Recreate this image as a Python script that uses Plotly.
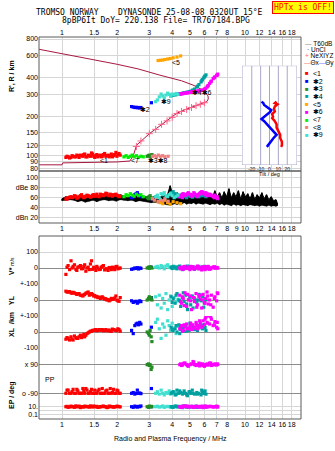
import math
import plotly.graph_objects as go

# ---------------- text ----------------
title1 = "TROMSO NORWAY    DYNASONDE 25-08-08 0320UT 15°E"
title2 = "8pBP6It DoY= 220.138 File= TR767184.BPG"
hptx_text = "HPTx is OFF!"

# ---------------- ticks ----------------
freq_ticks_top = [1, 1.5, 2, 3, 4, 5, 6, 7, 8, 10, 12, 14, 16, 18]
freq_ticks_mid = [1, 1.5, 2, 3, 4, 5, 6, 7, 8, 9, 10, 12, 14, 16, 18]
height_ticks = [80, 90, 100, 120, 150, 200, 300, 400, 600, 800]
db_ticks = [20, 40, 60, 80, 100]
db_labels = ["dBn 20", "40", "60", "dBe 80", "100"]
tilt_ticks = [-20, -10, 0, 10, 20]
tilt_range = [-31, 31]
tilt_h_range = [84.7, 497]

# ---------------- electron density profile (f MHz, h km) ----------------
profile_f = [0.75, 1.0, 1.01, 1.6, 2.0, 2.35, 2.45, 2.56, 2.67, 3.02, 3.29, 3.57, 3.89, 4.24,
             4.7, 5.2, 5.8, 6.18, 6.3, 6.28, 6.1, 5.89, 5.2, 4.5, 3.43, 2.6, 2.0, 1.6, 1.0, 0.75]
profile_h = [85, 85, 88, 88.5, 89.5, 91, 100, 121, 128, 149, 163, 178, 195, 213,
             227, 239, 252, 262, 275, 290, 305, 322, 352, 380, 420, 470, 510, 541, 620, 666]
nexyz_f = [2.55, 2.7, 3.0, 3.25, 3.5, 3.75, 4.0, 4.25, 4.5, 4.8, 5.1, 5.4, 5.7, 6.0]
nexyz_h = [118, 130, 148, 160, 175, 186, 198, 212, 220, 228, 236, 244, 250, 257]

# ---------------- echo traces ----------------
# <1  (red)
t1_f = [1.05, 1.08, 1.12, 1.15, 1.19, 1.22, 1.26, 1.30, 1.33, 1.37, 1.41, 1.45, 1.49, 1.53,
        1.57, 1.62, 1.66, 1.71, 1.76, 1.81, 1.86, 1.91, 1.97, 2.02, 2.08,
        1.065, 1.10, 1.135, 1.17, 1.205, 1.24, 1.28, 1.315, 1.35, 1.39, 1.43, 1.47, 1.51,
        1.55, 1.595, 1.64, 1.685, 1.735, 1.785, 1.835, 1.885, 1.94, 1.995, 2.05]
t1_h = [97, 98, 97, 99, 98, 100, 101, 99, 103, 98, 100, 105, 99, 100, 98, 101, 99, 104, 100,
        98, 103, 100, 106, 102, 101,
        99, 96, 100, 98, 101, 97, 100, 102, 98, 101, 99, 103, 97, 102, 100, 98, 102, 99, 101,
        100, 98, 102, 99, 104]
t1_db = [58, 60, 62, 61, 63, 60, 64, 62, 61, 65, 63, 62, 66, 64, 63, 67, 65, 66, 68, 64, 66,
         65, 67, 64, 63,
         57, 61, 60, 64, 59, 62, 66, 60, 63, 64, 61, 65, 63, 67, 62, 66, 64, 69, 65, 67, 63,
         66, 65, 62]
t1_v = [-40, 15, 45, 10, -8, 5, 15, -3, 20, 0, -10, 45, 5, -15, 0, -8, 10, -12, -5, 3, -10,
        0, 8, -5, 0,
        5, -10, 0, 20, -15, 8, -5, 10, -20, 5, 25, -8, 0, 10, -10, 5, 15, -5, -15, 0, 5, -10,
        10, -2]
t1_yl = [55, 50, 45, 48, 40, 38, 30, 25, 35, 45, 30, 40, 25, 20, 15, 10, 20, 5, 0, -5, 10, 5,
         25, -5, 15,
         50, 52, 42, 44, 35, 40, 28, 32, 42, 50, 36, 34, 28, 22, 18, 15, 12, 8, 2, 0, 6, 12,
         0, -8]
t1_xl = [-45, -40, -30, -50, -35, -40, -20, -25, -30, -10, 0, 5, 10, 15, 10, 12, 15, 10, 8,
         12, 5, 15, 10, 20, 5,
         -35, -50, -45, -25, -40, -30, -35, -15, -20, -5, 5, 10, 12, 8, 15, 12, 8, 15, 10, 5,
         18, 12, 8, 15]
t1_pp = [-90, -70, -90, -65, -90, -75, -90, -60, -90, -70, -90, -65, -90, -90, -75, -90, -60,
         -90, -70, -90, -90, -65, -90, -75, -90,
         -70, -90, -80, -90, -65, -90, -90, -75, -60, -90, -80, -90, -70, -90, -65, -90, -90,
         -75, -90, -60, -85, -90, -70, -90]
t1_ep = [10, 7, 14, 10, 16, 10, 6, 10, 13, 10, 8, 10, 15, 10, 7, 10, 12, 10, 6, 14, 10, 8, 10,
         12, 9,
         12, 9, 10, 7, 10, 14, 10, 8, 12, 10, 16, 9, 10, 12, 8, 10, 14, 10, 7, 12, 10, 9, 13,
         10]

# *2 (blue)
t2_f = [2.40, 2.45, 2.50, 2.54, 2.58, 2.62, 2.66, 2.70, 3.08]
t2_h = [240, 238, 236, 237, 235, 236, 234, 236, 257]
t2_db = [60, 62, 66, 68, 70, 66, 64, 62, 58]
t2_v = [-8, -5, 0, -3, 2, -6, 0, -2, 5]
t2_yl = [-5, -15, -10, -8, -20, -12, -5, -10, 15]
t2_xl = [10, -10, 40, 50, 55, 45, 60, 50, 30]
t2_pp = [-90, -85, -95, -90, -70, -90, -88, -92, -60]
t2_ep = [10, 7, 14, 10, 8, 12, 10, 15, 10]

# *3 (dark green)
t3_f = [2.92, 2.97, 3.00, 3.03, 3.07, 3.10]
t3_h = [99, 100, 101, 98, 100, 102]
t3_db = [60, 58, 62, 64, 60, 58]
t3_v = [0, 5, -2, 8, 3, 0]
t3_yl = [0, 10, 20, 5, 15, 0]
t3_xl = [0, -10, -20, 10, -30, -60]
t3_pp = [90, 95, 85, 90, 60, 75]
t3_ep = [10, 7, 14, 9, 12, 10]

# *4 (teal)
t4_f = [3.95, 4.05, 4.15, 4.25, 4.35, 4.45, 4.55, 4.65, 4.75, 4.85, 4.95, 5.05, 5.15, 5.30,
        5.45, 5.60, 5.75, 5.85, 5.95, 6.05, 6.12,
        4.00, 4.20, 4.40, 4.60, 4.80, 5.00, 5.20, 5.50, 5.80, 6.00]
t4_h = [292, 294, 296, 298, 300, 302, 304, 306, 308, 310, 312, 315, 320, 328, 340, 355, 372,
        388, 400, 414, 422,
        293, 297, 301, 305, 309, 313, 322, 345, 380, 408]
t4_db = [70, 72, 68, 66, 64, 65, 67, 63, 62, 64, 66, 63, 61, 65, 64, 62, 66, 68, 65, 64, 62,
         68, 66, 62, 66, 60, 64, 62, 66, 64, 66]
t4_v = [5, 10, 0, -5, 8, 2, -10, 5, 0, 12, -3, 6, 0, -8, 4, 10, -2, 3, 0, 6, -4,
        -3, 6, 12, -6, 4, -2, 8, 0, -5, 10]
t4_yl = [20, 10, -20, 40, 0, -40, 15, -10, 30, -60, 5, -30, 25, 10, -15, 35, -5, 20, -45,
         10, 0,
         -15, 30, -5, 45, -25, 20, -50, 0, 30, -20]
t4_xl = [30, 10, 20, 0, 45, 15, 25, 5, 35, 20, 10, 40, 30, 15, 50, 25, 35, 20, 45, 30, 10,
         15, 40, -10, 30, 5, 55, 20, 10, 40, 25]
t4_pp = [-90, -80, -100, -70, -90, -85, -95, -75, -90, -105, -80, -90, -70, -95, -85, -90,
         -100, -80, -90, -75, -95,
         -85, -95, -75, -90, -100, -80, -90, -95, -70, -90]
t4_ep = [10, 7, 14, 9, 12, 10, 6, 10, 15, 10, 8, 12, 10, 7, 13, 10, 9, 10, 12, 10, 8,
         9, 12, 10, 15, 8, 10, 12, 7, 10, 11]

# <5 (orange)
t5_f = [3.35, 3.45, 3.55, 3.65, 3.78, 3.90, 4.05, 4.25, 4.45]
t5_h = [545, 548, 550, 555, 560, 565, 572, 580, 592]
t5_db = [52, 50, 48, 55, 50, 47, 52, 50, 48]

# *6 (magenta)
t6_f = [4.40, 4.50, 4.60, 4.70, 4.80, 4.90, 5.00, 5.10, 5.20, 5.30, 5.40, 5.50, 5.60, 5.70,
        5.80, 5.90, 6.00, 6.10, 6.20, 6.30, 6.40, 6.55, 6.70, 6.85, 7.00, 7.10,
        4.45, 4.55, 4.65, 4.85, 5.05, 5.25, 5.45, 5.65, 5.85, 6.05, 6.25, 6.5, 6.8, 7.05]
t6_h = [300, 302, 303, 305, 306, 308, 309, 311, 313, 314, 315, 316, 318, 319, 320, 322, 326,
        332, 340, 350, 362, 378, 395, 408, 418, 428,
        301, 302, 304, 307, 310, 313, 315, 318, 321, 330, 345, 372, 402, 422]
t6_db = [62, 65, 68, 64, 66, 70, 67, 63, 65, 68, 66, 64, 67, 70, 72, 69, 66, 70, 68, 65, 67,
         64, 62, 65, 60, 58,
         64, 60, 66, 68, 65, 70, 62, 68, 71, 67, 64, 66, 60, 62]
t6_v = [0, 5, -8, 10, -3, 6, -10, 2, 8, -5, 0, 12, -6, 3, -12, 5, 0, 8, -4, 10, -8, 2, 6,
        -2, 4, 0,
        -5, 3, 8, -2, 10, -6, 4, 0, 7, -10, 2, -5, 8, 0]
t6_yl = [30, -20, 10, 45, -40, 0, 25, -60, 15, -10, 40, -30, 20, 5, -50, 35, -15, 10, 50,
         -25, 0, 30, -45, 20, -5, 40,
         -10, 20, -35, 35, -5, 15, -45, 30, 0, -20, 25, -30, 10, 45]
t6_xl = [20, 40, 10, 30, 50, 25, 35, 15, 45, 30, 60, 20, 40, 55, 30, 70, 45, 90, 60, 100,
         50, 80, 40, 65, 30, 20,
         30, 5, 45, 20, 55, 25, 40, 70, 35, 80, 55, 95, 45, 60]
t6_pp = [90, 85, 95, 100, 90, 80, 90, 95, 110, 90, 85, 90, 100, 95, 90, 85, 80, 90, 95, 90,
         100, 85, 90, 95, 88, 92,
         95, 88, 100, 85, 92, 105, 90, 82, 95, 90, 88, 100, 90, 95]
t6_ep = [10, 7, 13, 15, 10, 8, 10, 12, 7, 10, 14, 10, 8, 12, 10, 6, 10, 15, 9, 10, 12, 10,
         8, 10, 14, 10,
         8, 12, 10, 14, 10, 7, 11, 10, 13, 9, 10, 12, 10, 8]

# <7 (lime)
t7_f = [2.18, 2.24, 2.30, 2.36, 2.42, 2.48, 2.55, 2.62, 2.70, 2.78]
t7_h = [98, 100, 97, 99, 101, 98, 100, 97, 99, 98]
t7_db = [62, 66, 64, 68, 65, 63, 67, 64, 66, 62]

# <8 (salmon)
t8_f = [3.12, 3.20, 3.28, 3.36, 3.45, 3.55, 3.65, 3.80]
t8_h = [99, 100, 98, 101, 99, 100, 98, 99]
t8_db = [58, 55, 60, 52, 56, 54, 58, 53]

# *9 (turquoise)
t9_f = [3.25, 3.32, 3.40, 3.48, 3.55, 3.62, 3.70, 3.78, 3.85, 3.92, 4.00, 4.10, 4.20, 4.30]
t9_h = [262, 270, 285, 300, 290, 280, 295, 305, 298, 288, 300, 296, 303, 298]
t9_db = [62, 65, 60, 68, 66, 70, 64, 62, 66, 68, 64, 60, 62, 65]
t9_v = [5, 10, 0, 15, 8, -5, 12, 20, 3, 6, 0, 10, -3, 5]
t9_yl = [20, -30, 30, -50, 10, -20, 40, -60, 0, 25, -40, 15, -10, 5]
t9_xl = [60, 80, 20, -40, 50, 30, -20, 70, 40, 10, 55, 25, -10, 35]
t9_pp = [-90, -80, -95, -70, -90, -100, -85, -90, -75, -95, -90, -80, -100, -90]
t9_ep = [10, 13, 8, 10, 15, 7, 10, 12, 10, 8, 11, 10, 14, 9]

# noise amplitude band (dB)
noise_f = [1.00, 1.05, 1.10, 1.16, 1.22, 1.28, 1.34, 1.41, 1.48, 1.55, 1.63, 1.71, 1.80, 1.89,
           1.98, 2.08, 2.18, 2.29, 2.41, 2.53, 2.65, 2.79, 2.93, 3.07, 3.23, 3.39, 3.56, 3.74,
           3.90, 4.02, 4.14, 4.26, 4.39, 4.52, 4.66, 4.80, 4.94, 5.09, 5.24, 5.40, 5.56, 5.73,
           5.90, 6.08, 6.26, 6.45, 6.64, 6.84, 7.05, 7.26, 7.48, 7.70, 7.93, 8.17, 8.42, 8.67,
           8.93, 9.20, 9.47, 9.76, 10.05, 10.35, 10.66, 10.98, 11.31, 11.65, 12.0, 12.36,
           12.73, 13.11, 13.50, 13.91, 14.33, 14.76, 15.0]
noise_hi = [58, 62, 59, 63, 60, 64, 58, 62, 65, 60, 63, 66, 61, 64, 62, 66, 63, 60, 64, 62,
            66, 60, 63, 58, 64, 60, 66, 62, 84,
            68, 62, 70, 63, 66, 61, 67, 62, 68, 63, 66, 60, 67, 62, 69, 63, 66, 60, 74, 62,
            70, 60, 72, 62, 78, 60, 70, 62, 74, 58, 72, 62, 68, 58, 70, 57, 66, 60, 70, 58,
            66, 56, 62, 54, 56, 50]
noise_lo = [54, 55, 56, 55, 52, 54, 51, 53, 55, 52, 55, 56, 54, 55, 53, 56, 55, 54, 55, 52,
            54, 53, 52, 50, 51, 49, 47, 46, 45,
            47, 48, 46, 49, 48, 50, 47, 49, 48, 50, 47, 49, 48, 47, 49, 48, 46, 48, 47, 49,
            46, 48, 45, 47, 46, 44, 47, 45, 46, 44, 46, 45, 44, 46, 45, 44, 45, 43, 45, 44,
            43, 45, 43, 44, 43, 44]

# tilt profiles (deg, km)
tiltx_deg = [8, 6, 9, 6, 5, 6, 3, 4, 3, 6, 8, 8, 10, 12, 12, 14, 14, 13]
tiltx_h = [262, 255, 250, 240, 230, 220, 210, 200, 195, 185, 175, 165, 155, 145, 137, 128,
           120, 117]
tilty_deg = [-9, -7, -6, -1, 2, 1, -3, -9, -6, -2, 3, 8, 5, 2, -3]
tilty_h = [262, 255, 247, 235, 225, 219, 208, 192, 185, 172, 160, 145, 138, 130, 117]

# colours
C1, C2, C3, C4, C5 = "#ff0000", "#0000ff", "#228b22", "#00a0a0", "#ffa500"
C6, C7, C8, C9 = "#ff00ff", "#00ee00", "#f08080", "#40e0d0"
PROFILE_C = "#a81840"
NEXYZ_C = "#ff6088"
INSET_GRID = "#a8a8c8"

# ---------------- geometry helpers (pixel -> paper) ----------------
W, H = 335, 451
ML, MR, MT, MB = 39, 34, 37, 32
PW, PH = W - ML - MR, H - MT - MB


def px(p):
    return (p - ML) / PW


def py(p):
    return (H - MB - p) / PH


def ydom(top, bot):
    return [py(bot), py(top)]


fig = go.Figure()


def markers(x, y, xa, ya, color, size=3.2, symbol="square", lw=0):
    fig.add_trace(go.Scatter(x=x, y=y, xaxis=xa, yaxis=ya, mode="markers",
                             marker=dict(color=color, size=size, symbol=symbol,
                                         line=dict(width=lw, color=color)),
                             showlegend=False, hoverinfo="skip"))


def lines(x, y, xa, ya, color, width=1, **kw):
    fig.add_trace(go.Scatter(x=x, y=y, xaxis=xa, yaxis=ya, mode="lines",
                             line=dict(color=color, width=width), showlegend=False,
                             hoverinfo="skip", **kw))


# main panel: profile
lines(profile_f, profile_h, "x", "y", PROFILE_C, 1)
markers(nexyz_f, nexyz_h, "x", "y", NEXYZ_C, size=5, symbol="cross-thin", lw=1)

main_series = [(t1_f, t1_h, C1), (t2_f, t2_h, C2), (t3_f, t3_h, C3), (t4_f, t4_h, C4),
               (t5_f, t5_h, C5), (t6_f, t6_h, C6), (t7_f, t7_h, C7), (t8_f, t8_h, C8),
               (t9_f, t9_h, C9)]
for f, h, c in main_series:
    markers(f, h, "x", "y", c)

# dB panel: noise band (filled envelope + vertical spikes)
lines(noise_f, noise_lo, "x2", "y2", "black", 0.5)
lines(noise_f, noise_hi, "x2", "y2", "black", 1, fill="tonexty", fillcolor="black")
spk_x, spk_y = [], []
for f, lo, hi in zip(noise_f, noise_lo, noise_hi):
    spk_x += [f, f, None]
    spk_y += [lo, hi, None]
lines(spk_x, spk_y, "x2", "y2", "black", 1.5)
db_series = [(t1_f, t1_db, C1), (t2_f, t2_db, C2), (t3_f, t3_db, C3), (t4_f, t4_db, C4),
             (t5_f, t5_db, C5), (t6_f, t6_db, C6), (t7_f, t7_db, C7), (t8_f, t8_db, C8),
             (t9_f, t9_db, C9)]
for f, d, c in db_series:
    markers(f, d, "x2", "y2", c)

# lower panels
lower_series = [(t1_f, t1_v, t1_yl, t1_xl, t1_pp, t1_ep, C1),
                (t2_f, t2_v, t2_yl, t2_xl, t2_pp, t2_ep, C2),
                (t3_f, t3_v, t3_yl, t3_xl, t3_pp, t3_ep, C3),
                (t9_f, t9_v, t9_yl, t9_xl, t9_pp, t9_ep, C9),
                (t4_f, t4_v, t4_yl, t4_xl, t4_pp, t4_ep, C4),
                (t6_f, t6_v, t6_yl, t6_xl, t6_pp, t6_ep, C6)]
for f, v, yl, xl, pp, ep, c in lower_series:
    markers(f, v, "x3", "y3", c)
    markers(f, yl, "x3", "y4", c)
    markers(f, xl, "x3", "y5", c)
    markers(f, pp, "x3", "y6", c)
    markers(f, ep, "x3", "y7", c)

# inset tilt: white background panel, grid, then the two tilt curves
fig.add_trace(go.Scatter(
    x=[tilt_range[0], tilt_range[1], tilt_range[1], tilt_range[0], tilt_range[0]],
    y=[tilt_h_range[0], tilt_h_range[0], tilt_h_range[1], tilt_h_range[1], tilt_h_range[0]],
    xaxis="x4", yaxis="y8", mode="lines", fill="toself", fillcolor="white",
    line=dict(color=INSET_GRID, width=1), showlegend=False, hoverinfo="skip"))
grid_x, grid_y = [], []
for v in tilt_ticks:
    grid_x += [v, v, None]
    grid_y += [tilt_h_range[0], tilt_h_range[1], None]
lines(grid_x, grid_y, "x4", "y8", INSET_GRID, 1)
lines(tiltx_deg, tiltx_h, "x4", "y8", "#ff0000", 2.5)
lines(tilty_deg, tilty_h, "x4", "y8", "#0000ff", 2.5)

# ---------------- axes ----------------
FONT = "Liberation Sans, Arial, DejaVu Sans"
tickfont = dict(family=FONT, size=7, color="#000")
GL = "#d6d6d6"
GD = "#8c8c8c"


def ftxt(v):
    return str(v)


xcommon = dict(type="log", range=[-0.1257, 1.306], showgrid=True, gridcolor=GL, gridwidth=1,
               ticks="", showline=False, zeroline=False, tickfont=tickfont, tickmode="array",
               tickangle=0)

yc = dict(showline=False, ticks="", tickfont=tickfont, tickmode="array", gridcolor=GL,
          gridwidth=1, tickangle=0)

fig.update_layout(
    width=W, height=H, autosize=False,
    margin=dict(l=ML, r=MR, t=MT, b=MB, pad=0),
    paper_bgcolor="white", plot_bgcolor="white",
    xaxis=dict(**xcommon, domain=[0, 1], anchor="y", side="top",
               tickvals=freq_ticks_top, ticktext=[ftxt(v) for v in freq_ticks_top]),
    xaxis2=dict(**xcommon, domain=[0, 1], anchor="y2", side="bottom", matches="x",
                tickvals=freq_ticks_mid, ticktext=[ftxt(v) for v in freq_ticks_mid]),
    xaxis3=dict(**xcommon, domain=[0, 1], anchor="y7", side="bottom", matches="x",
                tickvals=freq_ticks_top, ticktext=[ftxt(v) for v in freq_ticks_top]),
    yaxis=dict(**yc, type="log", range=[1.8816, 2.9187], domain=ydom(37, 171), anchor="x",
               tickvals=height_ticks, ticktext=[str(v) for v in height_ticks],
               zeroline=False),
    yaxis2=dict(**yc, range=[9.4, 113.4], domain=ydom(171, 223), anchor="x2",
                tickvals=db_ticks, ticktext=db_labels, zeroline=False),
    yaxis3=dict(**yc, range=[-100, 200], domain=ydom(236, 284), anchor="x3",
                tickvals=[0, 100], ticktext=["0", "100"], zeroline=True,
                zerolinecolor=GD, zerolinewidth=1),
    yaxis4=dict(**yc, range=[-100, 100], domain=ydom(284, 316), anchor="x3",
                tickvals=[0, 100], ticktext=["0", "+-100"], zeroline=True,
                zerolinecolor=GD, zerolinewidth=1),
    yaxis5=dict(**yc, range=[-100, 100], domain=ydom(316, 348), anchor="x3",
                tickvals=[-100, 0, 100], ticktext=["-100", "0", "+-100"], zeroline=True,
                zerolinecolor=GD, zerolinewidth=1),
    yaxis6=dict(showline=False, ticks="", tickfont=tickfont, tickmode="array", gridcolor=GD,
                gridwidth=1, range=[-138.4, 195], domain=ydom(348, 401), anchor="x3",
                tickvals=[-90, 90], ticktext=["o -90", "x 90"], zeroline=False),
    yaxis7=dict(**yc, type="log", range=[-2.075, 2.425], domain=ydom(401, 419), anchor="x3",
                tickvals=[0.1, 1, 10], ticktext=["0.1", "", "10."], zeroline=False),
    xaxis4=dict(range=tilt_range, domain=[px(242), px(297)], anchor="y8", showgrid=False,
                zeroline=False, showline=False, ticks="", tickmode="array", tickangle=0,
                tickvals=tilt_ticks, ticktext=[str(v) for v in tilt_ticks],
                tickfont=dict(family=FONT, size=5, color="#000")),
    yaxis8=dict(type="log", range=[math.log10(tilt_h_range[0]), math.log10(tilt_h_range[1])],
                domain=ydom(65.7, 165), anchor="x4", showgrid=False, zeroline=False,
                showline=False, showticklabels=False, ticks=""),
)

# ---------------- frames ----------------
shapes = []
for top, bot in [(37, 171), (171, 223), (236, 419)]:
    shapes.append(dict(type="rect", xref="paper", yref="paper", x0=0, x1=1,
                       y0=py(bot), y1=py(top), line=dict(color="#5a5a5a", width=1),
                       fillcolor="rgba(0,0,0,0)", layer="above"))
fig.update_layout(shapes=shapes)

# ---------------- annotations ----------------
ann = []


def text(t, x, y, size=7, color="#000", xanchor="center", family=FONT, angle=0, **kw):
    ann.append(dict(text=t, x=px(x), y=py(y), xref="paper", yref="paper", showarrow=False,
                    xanchor=xanchor, yanchor="middle", textangle=angle,
                    font=dict(family=family, size=size, color=color), **kw))


MONO = "DejaVu Sans Mono, Liberation Mono, monospace"
text(title1, 149, 13, size=8, family=MONO)
text(title2, 156, 21, size=8, family=MONO)
text(hptx_text, 302.5, 8, size=8, color="#ff0000", family=MONO, bgcolor="#ffff00",
     bordercolor="#ff0000", borderwidth=1, borderpad=1)

# axis titles
text("<b>R', R / km</b>", 12, 76, size=7, angle=-90)
text("<b>V*</b> <span style='font-size:5px'>m/s</span>", 11, 266, size=7, angle=-90)
text("<b>YL</b>", 11, 300, size=7, angle=-90)
text("<b>/km</b>", 11, 318, size=7, angle=-90)
text("<b>XL</b>", 11, 332, size=7, angle=-90)
text("<b>EP / deg</b>", 12, 395, size=7, angle=-90)
text("PP", 43, 379, size=7, xanchor="left")
text("Radio and Plasma Frequency / MHz", 170, 439, size=7)
text("Tilt / deg", 269, 174, size=5.5)

# trace labels in main panel (f MHz, h km positions)
trace_labels = [("<1", 1.70, 92.6), ("<7", 2.51, 92.6), ("✱3✱8", 3.35, 92.6),
                ("✱2", 2.84, 226), ("<5", 4.20, 531), ("✱4✱6", 5.82, 311), ("✱9", 3.70, 265)]
for t, f, h in trace_labels:
    ann.append(dict(text=t, x=math.log10(f), y=math.log10(h), xref="x", yref="y",
                    showarrow=False, font=dict(family=FONT, size=7, color="#000")))

# legend (right)
text("<span style='color:#909090'>—</span> T60dB", 303, 43.3, size=6.5, xanchor="left")
text("· UnCl", 305, 49.5, size=6.5, xanchor="left")
text("<span style='color:#ff6088'>+</span> NeXIYZ", 303, 55.7, size=6.5, xanchor="left")
text("<span style='color:#f08080'>—</span>Θx<span style='color:#8080ff'>—</span>Θy",
     302, 62.7, size=6.5, xanchor="left")
leg_items = [("<1", C1), ("✱2", C2), ("✱3", C3), ("✱4", C4), ("<5", C5), ("✱6", C6),
             ("<7", C7), ("<8", C8), ("✱9", C9)]
for i, (t, c) in enumerate(leg_items):
    yy = 73.3 + i * 7.7
    text("■", 306.5, yy, size=6, color=c)
    text(t, 311, yy, size=7, xanchor="left")

fig.update_layout(annotations=ann)
fig.write_html("out.html")
